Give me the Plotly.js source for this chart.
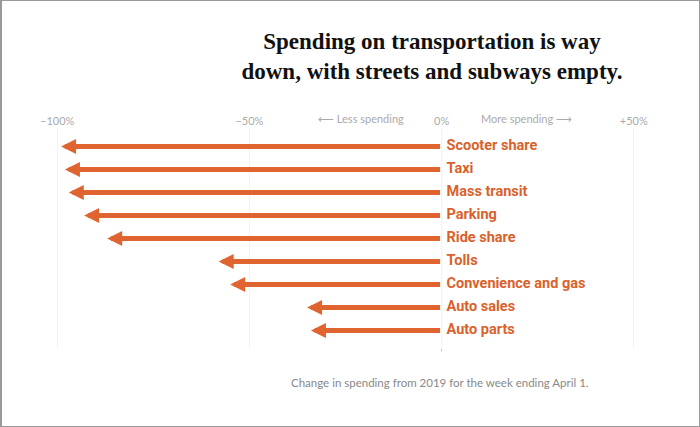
<!DOCTYPE html>
<html>
<head>
<meta charset="utf-8">
<script src="https://cdn.plot.ly/plotly-3.0.1.min.js"></script>
<style>
html,body{margin:0;padding:0;background:#fff;}
#chart{width:697px;height:425px;border-top:1px solid #999;border-bottom:1px solid #999;border-left:2px solid #999;border-right:1px solid #999;}
</style>
</head>
<body>
<div id="chart"></div>
<script>
const categories = ["Scooter share","Taxi","Mass transit","Parking","Ride share","Tolls","Convenience and gas","Auto sales","Auto parts"];
const changePct = [-99, -98, -97, -93, -87, -58, -55, -35, -34];
const tickValues = [-100, -50, 0, 50];
const tickLabels = ["\u2212100%", "\u221250%", "0%", "+50%"];

const orange = "#e0642f";
const rows = categories.map((c, i) => i);

const labelTrace = {
  type: "scatter",
  mode: "text",
  x: categories.map(() => 0),
  y: rows,
  text: categories,
  texttemplate: "\u2004%{text}",
  textposition: "middle right",
  textfont: {family: "Roboto", size: 14.5, weight: 700, color: "#d9622c"},
  hoverinfo: "skip",
  showlegend: false,
  cliponaxis: false
};

const arrowAnns = changePct.map((v, i) => ({
  x: v, y: rows[i], ax: 0, ay: rows[i],
  xref: "x", yref: "y", axref: "x", ayref: "y",
  text: "", showarrow: true,
  arrowhead: 2, arrowsize: 0.6, arrowwidth: 5,
  arrowcolor: orange, standoff: 0, startstandoff: 0
}));

const layout = {
  width: 697, height: 425,
  margin: {l: 36, r: 46, t: 126.5, b: 76.5},
  paper_bgcolor: "#fff", plot_bgcolor: "#fff",
  showlegend: false,
  title: {
    text: "<b>Spending on transportation is way<br>down, with streets and subways empty.</b>",
    font: {family: "Liberation Serif", size: 23, color: "#111"},
    x: 430 / 697, xref: "container", xanchor: "center",
    y: 1 - 48 / 425, yref: "container", yanchor: "top"
  },
  xaxis: {
    range: [-105, 55], side: "top",
    tickvals: tickValues, ticktext: tickLabels,
    tickfont: {family: "Lato", size: 11, color: "#aaa"},
    ticks: "", showgrid: true, gridcolor: "#f3f3f3", gridwidth: 1,
    zeroline: false, showline: false, fixedrange: true
  },
  yaxis: {
    range: [8.8, -0.8], showticklabels: false, showgrid: false,
    zeroline: false, showline: false, fixedrange: true
  },
  shapes: [{
    type: "line", xref: "x", yref: "paper", x0: 0, x1: 0, y0: -0.01, y1: 1,
    line: {color: "#bbb", width: 1, dash: "dot"}, layer: "below"
  }],
  annotations: arrowAnns.concat([
    {x: -21, y: 1, xref: "x", yref: "paper", yanchor: "bottom", yshift: 1, showarrow: false,
     text: "\u27f5 Less spending", font: {family: "Lato", size: 11, color: "#aaa"}},
    {x: 22, y: 1, xref: "x", yref: "paper", yanchor: "bottom", yshift: 1, showarrow: false,
     text: "More spending \u27f6", font: {family: "Lato", size: 11, color: "#aaa"}},
    {x: (440 - 2 - 36) / 615, y: 0, xref: "paper", yref: "paper", yanchor: "middle", yshift: -33,
     showarrow: false,
     text: "Change in spending from 2019 for the week ending April 1.",
     font: {family: "Lato", size: 11.5, color: "#888"}}
  ])
};

Plotly.newPlot("chart", [labelTrace], layout, {displayModeBar: false, staticPlot: true});
</script>
</body>
</html>
